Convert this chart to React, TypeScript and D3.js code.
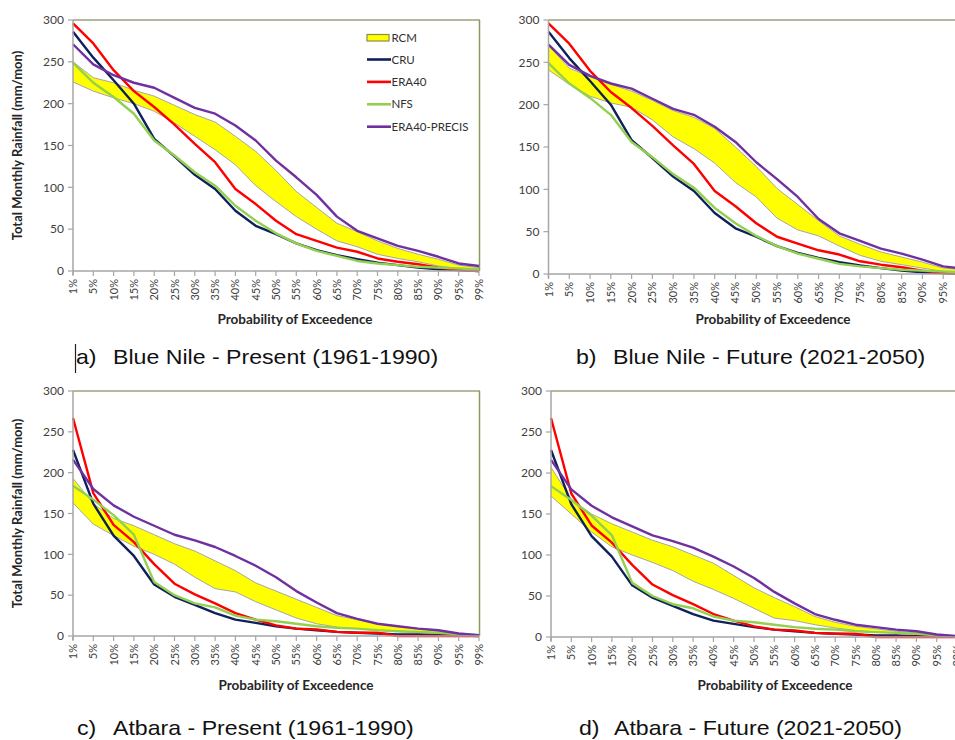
import React from "react";
import * as d3 from "d3";

const probabilities = ["1%", "5%", "10%", "15%", "20%", "25%", "30%", "35%", "40%", "45%", "50%", "55%", "60%", "65%", "70%", "75%", "80%", "85%", "90%", "95%", "99%"];
const yTicks = [0, 50, 100, 150, 200, 250, 300];

// Blue Nile observed / reanalysis
const blueNileCRU = [286, 255, 228, 200, 158, 137, 115, 98, 72, 54, 44, 33, 25, 19, 14, 10, 7, 4, 2, 1, 0];
const blueNileERA40 = [296, 272, 240, 215, 196, 175, 152, 130, 98, 80, 60, 44, 36, 28, 23, 15, 11, 8, 4, 1, 0];
const blueNileNFS = [249, 225, 208, 188, 156, 138, 118, 102, 78, 60, 45, 33, 24, 18, 12, 9, 7, 5, 4, 3, 2];
const blueNilePRECIS = [271, 247, 234, 225, 219, 207, 195, 188, 174, 156, 132, 112, 91, 65, 48, 39, 30, 24, 17, 9, 6];
// Blue Nile RCM envelope
const blueNilePresentRCMHigh = [250, 231, 225, 216, 209, 198, 187, 178, 161, 143, 120, 95, 76, 57, 47, 36, 27, 20, 14, 7, 4];
const blueNilePresentRCMLow = [226, 215, 207, 200, 191, 177, 161, 145, 127, 102, 83, 65, 50, 36, 29, 20, 15, 11, 6, 3, 2];
const blueNileFutureRCMHigh = [270, 243, 233, 224, 216, 205, 193, 185, 172, 150, 127, 101, 82, 63, 45, 35, 26, 20, 14, 7, 5];
const blueNileFutureRCMLow = [241, 224, 210, 202, 197, 182, 162, 148, 131, 108, 91, 66, 52, 45, 33, 22, 15, 11, 7, 3, 2];

// Atbara observed / reanalysis
const atbaraCRU = [228, 162, 123, 98, 63, 48, 38, 28, 20, 16, 12, 9, 7, 5, 4, 3, 2, 2, 1, 1, 0];
const atbaraERA40 = [267, 175, 136, 115, 88, 64, 51, 40, 28, 20, 13, 9, 8, 5, 4, 4, 0, 0, 0, 0, 0];
const atbaraNFS = [184, 167, 148, 124, 66, 50, 40, 35, 25, 20, 18, 15, 12, 10, 9, 7, 6, 5, 4, 2, 1];
const atbaraPRECIS = [216, 180, 160, 146, 135, 124, 117, 109, 98, 86, 72, 55, 41, 28, 21, 15, 12, 9, 7, 3, 1];
// Atbara RCM envelope
const atbaraPresentRCMHigh = [193, 162, 144, 135, 124, 113, 104, 92, 80, 65, 55, 45, 35, 25, 20, 15, 12, 9, 6, 3, 1];
const atbaraPresentRCMLow = [163, 137, 123, 110, 100, 88, 72, 58, 54, 42, 32, 22, 15, 11, 9, 7, 5, 4, 3, 2, 1];
const atbaraFutureRCMHigh = [207, 168, 150, 138, 128, 118, 110, 100, 90, 75, 60, 48, 37, 25, 18, 13, 10, 7, 5, 3, 1];
const atbaraFutureRCMLow = [172, 150, 128, 110, 100, 91, 81, 68, 58, 47, 35, 23, 20, 15, 11, 8, 6, 5, 3, 2, 1];

const seriesNames = ["CRU", "ERA40", "NFS", "ERA40-PRECIS"];
const seriesColors = ["#10205a", "#ff0000", "#92d050", "#7030a0"];

const panels = [
  { letter: "a)", title: "Blue Nile - Present (1961-1990)", obs: [blueNileCRU, blueNileERA40, blueNileNFS, blueNilePRECIS], hi: blueNilePresentRCMHigh, lo: blueNilePresentRCMLow, legend: true },
  { letter: "b)", title: "Blue Nile - Future (2021-2050)", obs: [blueNileCRU, blueNileERA40, blueNileNFS, blueNilePRECIS], hi: blueNileFutureRCMHigh, lo: blueNileFutureRCMLow, legend: false },
  { letter: "c)", title: "Atbara - Present (1961-1990)", obs: [atbaraCRU, atbaraERA40, atbaraNFS, atbaraPRECIS], hi: atbaraPresentRCMHigh, lo: atbaraPresentRCMLow, legend: false },
  { letter: "d)", title: "Atbara - Future (2021-2050)", obs: [atbaraCRU, atbaraERA40, atbaraNFS, atbaraPRECIS], hi: atbaraFutureRCMHigh, lo: atbaraFutureRCMLow, legend: false },
];

const layouts = [
  { left: 73, right: 479, top: 20, bottom: 271, border: true, yTitle: true, xTitleX: 295, xTitleY: 324, letterX: 76, textX: 113, titleY: 364, cursor: true },
  { left: 548.5, right: 964, top: 20, bottom: 274, border: false, yTitle: false, xTitleX: 773, xTitleY: 324, letterX: 576, textX: 613, titleY: 364, cursor: false },
  { left: 73, right: 479, top: 391, bottom: 636, border: true, yTitle: true, xTitleX: 296, xTitleY: 690, letterX: 77, textX: 113, titleY: 735, cursor: false },
  { left: 551, right: 957, top: 391, bottom: 637, border: false, yTitle: false, xTitleX: 775, xTitleY: 690, letterX: 579, textX: 614, titleY: 735, cursor: false },
];

const calibri = "Lato, 'Open Sans', sans-serif";
const captionFont = "'Liberation Sans', Arial, sans-serif";
const captionStretch = 1.157;

function Panel({ p, L }: any) {
  const x = d3.scalePoint<string>().domain(probabilities).range([L.left, L.right]).padding(0);
  const y = d3.scaleLinear().domain([0, 300]).range([L.bottom, L.top]);
  const band = d3
    .area<number>()
    .x((_, i) => x(probabilities[i]) as number)
    .y0((_, i) => y(p.lo[i]))
    .y1((d) => y(d));
  const lineGen = (vals: number[]) =>
    d3
      .line<number>()
      .x((_, i) => x(probabilities[i]) as number)
      .y((d) => y(d))(vals) as string;
  const clipId = `clip-${p.letter[0]}`;
  const yMid = (L.top + L.bottom) / 2;
  return (
    <g>
      <defs>
        <clipPath id={clipId}>
          <rect x={L.left - 2} y={L.top - 4} width={L.right - L.left + 4} height={L.bottom - L.top + 6} />
        </clipPath>
      </defs>
      {/* plot frame */}
      <line x1={L.left} x2={Math.min(L.right + 1, 960)} y1={L.top} y2={L.top} stroke="#9c9f7e" strokeWidth={1.5} />
      {L.border && <line x1={L.right + 0.5} x2={L.right + 0.5} y1={L.top} y2={L.bottom} stroke="#8c9a5e" strokeWidth={1.5} />}
      <g clipPath={`url(#${clipId})`}>
        <path d={band(p.hi) as string} fill="#ffff00" stroke="none" />
        <path d={lineGen(p.hi)} fill="none" stroke="#a6a6a6" strokeWidth={1} />
        <path d={lineGen(p.lo)} fill="none" stroke="#a6a6a6" strokeWidth={1} />
        {p.obs.map((vals: number[], i: number) => (
          <path key={i} d={lineGen(vals)} fill="none" stroke={seriesColors[i]} strokeWidth={2.4} strokeLinejoin="round" />
        ))}
      </g>
      {/* y axis */}
      <line x1={L.left} x2={L.left} y1={L.top} y2={L.bottom + 4} stroke="#a6a6a6" strokeWidth={1.5} />
      {yTicks.map((t) => (
        <g key={t}>
          <line x1={L.left - 5} x2={L.left} y1={y(t)} y2={y(t)} stroke="#a6a6a6" strokeWidth={1.2} />
          <text x={L.left - 9} y={y(t)} dy="0.35em" textAnchor="end" fontSize={12} fill="#404040" fontFamily={calibri}>
            {t}
          </text>
        </g>
      ))}
      {/* x axis */}
      <line x1={L.left} x2={Math.min(L.right, 960)} y1={L.bottom} y2={L.bottom} stroke="#a6a6a6" strokeWidth={1.5} />
      {probabilities.map((c) => (
        <g key={c}>
          <line x1={x(c)} x2={x(c)} y1={L.bottom} y2={L.bottom + 5} stroke="#a6a6a6" strokeWidth={1.2} />
          <text
            transform={`translate(${(x(c) as number) + 4},${L.bottom + 8}) rotate(-90)`}
            textAnchor="end"
            fontSize={11}
            fill="#404040"
            fontFamily={calibri}
          >
            {c}
          </text>
        </g>
      ))}
      <text x={L.xTitleX} y={L.xTitleY} textAnchor="middle" fontSize={13.5} fontWeight="bold" fill="#262626" fontFamily={calibri}>
        Probability of Exceedence
      </text>
      {L.yTitle && (
        <text
          transform={`translate(22,${yMid}) rotate(-90)`}
          textAnchor="middle"
          fontSize={13}
          fontWeight="bold"
          fill="#262626"
          fontFamily={calibri}
        >
          Total Monthly Rainfall (mm/mon)
        </text>
      )}
      {/* caption */}
      <text transform={`translate(${L.letterX},${L.titleY}) scale(${captionStretch},1)`} fontSize={20} fill="#111" fontFamily={captionFont}>
        {p.letter}
      </text>
      <text transform={`translate(${L.textX},${L.titleY}) scale(${captionStretch},1)`} fontSize={20} fill="#111" fontFamily={captionFont}>
        {p.title}
      </text>
      {L.cursor && <line x1={75.5} x2={75.5} y1={344} y2={373} stroke="#222" strokeWidth={1.2} />}
      {p.legend && (
        <g fontFamily={calibri} fontSize={11.5} fill="#303030">
          <rect x={367} y={34.5} width={22} height={6.5} fill="#ffff00" stroke="#8c8c46" strokeWidth={1.2} />
          <text x={391.5} y={38} dy="0.35em">RCM</text>
          {seriesNames.map((n, i) => (
            <g key={n}>
              <line x1={367} x2={391} y1={59.5 + i * 22.4} y2={59.5 + i * 22.4} stroke={seriesColors[i]} strokeWidth={2.6} />
              <text x={391.5} y={59.5 + i * 22.4} dy="0.35em">{n}</text>
            </g>
          ))}
        </g>
      )}
    </g>
  );
}

export default function App() {
  return (
    <svg width={955} height={740} style={{ position: "absolute", left: 0, top: 0, background: "#fff" }}>
      <rect width={955} height={740} fill="#fff" />
      {panels.map((p, i) => (
        <Panel key={i} p={p} L={layouts[i]} />
      ))}
    </svg>
  );
}
